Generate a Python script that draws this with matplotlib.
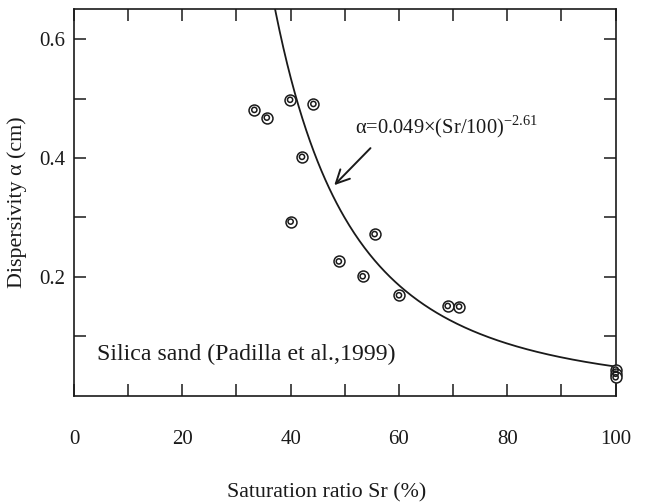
import numpy as np
import matplotlib
matplotlib.use('Agg')
import matplotlib.pyplot as plt
import matplotlib.ticker as ticker

plt.rcParams['font.family'] = ['Liberation Serif', 'DejaVu Serif']
plt.rcParams['mathtext.fontset'] = 'custom'
plt.rcParams['mathtext.rm'] = 'Liberation Serif'

# Measured data (Padilla et al., 1999)
sr = [33.3, 35.6, 39.9, 44.2, 42.1, 40.0, 55.5, 48.9, 53.3, 60.0, 69.0, 71.1, 100, 100, 100]
alpha = [0.481, 0.468, 0.498, 0.491, 0.402, 0.293, 0.272, 0.226, 0.201, 0.169, 0.151, 0.150, 0.044, 0.037, 0.031]

# Fitted curve parameters
coef = 0.049
expo = -2.61

fig = plt.figure(figsize=(6.5, 5.04), dpi=100)
ax = fig.add_axes([0.1138, 0.2149, 0.8333, 0.7663])

x_fit = np.linspace(30, 100, 300)
y_fit = coef * (x_fit / 100) ** expo
ax.plot(x_fit, y_fit, color='#1a1a1a', linewidth=1.3)

# double circle markers
ax.scatter(sr, alpha, s=62, facecolors='white', edgecolors='#1a1a1a', linewidths=1.1, zorder=3, clip_on=False)
ax.scatter(sr, alpha, s=14, facecolors='none', edgecolors='#1a1a1a', linewidths=1.1, zorder=4, clip_on=False)

ax.annotate('', xy=(47.7, 0.351), xytext=(55.1, 0.420),
            arrowprops=dict(arrowstyle='->', color='#1a1a1a', lw=1.4, mutation_scale=24))
ax.text(51.9, 0.441, r'α=0.049×(Sr/100)$^{\mathregular{-2.61}}$', fontsize=14.8, color='#1a1a1a')
ax.text(4.2, 0.06, 'Silica sand (Padilla et al.,1999)', fontsize=17.2, color='#1a1a1a')

ax.set_xlim(0, 100)
ax.set_ylim(0, 0.65)
ax.xaxis.set_major_locator(ticker.MultipleLocator(20))
ax.xaxis.set_minor_locator(ticker.MultipleLocator(10))
ax.yaxis.set_major_locator(ticker.FixedLocator([0.2, 0.4, 0.6]))
ax.yaxis.set_minor_locator(ticker.FixedLocator([0.1, 0.3, 0.5]))
ax.yaxis.set_major_formatter(ticker.FormatStrFormatter('%.1f'))

ax.tick_params(which='both', direction='in', top=True, right=True, length=8.5, width=1.1, colors='#1a1a1a')
ax.tick_params(axis='x', which='major', pad=25, labelsize=15)
ax.tick_params(axis='y', which='major', pad=6, labelsize=15)
for s in ax.spines.values():
    s.set_linewidth(1.2)
    s.set_color('#1a1a1a')

ax.set_xlabel('Saturation ratio Sr (%)', fontsize=15.8, color='#1a1a1a')
ax.set_ylabel('Dispersivity α (cm)', fontsize=15.8, color='#1a1a1a')
ax.xaxis.set_label_coords(0.467, -0.226)
ax.yaxis.set_label_coords(-0.086, 0.5)

fig.savefig('out.png', dpi=100)
